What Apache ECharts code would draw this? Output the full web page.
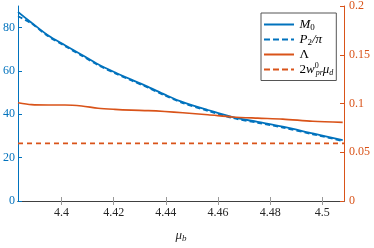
<!DOCTYPE html>
<html><head><meta charset="utf-8">
<script src="https://cdn.jsdelivr.net/npm/echarts@6/dist/echarts.min.js"></script>
<style>html,body{margin:0;padding:0;background:#fff}#c{width:374px;height:248px}</style>
</head><body><div id="c"></div>
<script>
var mu = [4.3833,4.3885,4.3949,4.4013,4.4077,4.4140,4.4204,4.4268,4.4332,4.4396,4.4465,4.4561,4.4656,4.4752,4.4848,4.4963,4.5078];
var M0 = [87.2,82.3,76.4,71.9,67.5,63.1,59.4,56.0,52.7,49.1,45.6,42.0,38.7,36.5,34.3,31.2,28.1];
var P2pi = [85.3,81.9,76.0,71.5,67.1,62.7,59.0,55.6,52.3,48.7,45.2,41.6,38.3,36.1,33.9,30.8,27.7];
var Lambda = [0.1008,0.0988,0.0985,0.0985,0.0975,0.0952,0.0940,0.0932,0.0927,0.0918,0.0905,0.0885,0.0862,0.0850,0.0840,0.0818,0.0806];
var muEnds = [4.3833,4.5083];
var wTerm = [0.0591,0.0591];
var xTicks = [4.4,4.42,4.44,4.46,4.48,4.5];
var yLeftTicks = [0,20,40,60,80];

var BLUE = '#0072BD', ORANGE = '#D95319', AX = '#404040';
var FONT = 'Liberation Serif';
function pairs(xs, ys){ return xs.map(function(x,i){return [x, ys[i]];}); }

var chart = echarts.init(document.getElementById('c'));
var rich = {
  i:{fontFamily:FONT,fontStyle:'italic',fontSize:13,color:'#000'},
  n:{fontFamily:FONT,fontSize:13,color:'#000'},
  sb:{fontFamily:FONT,fontSize:9,color:'#000',padding:[6,0,0,0]},
  sp:{fontFamily:FONT,fontSize:8,color:'#000',padding:[0,0,7,0],width:1},
  sbi:{fontFamily:FONT,fontStyle:'italic',fontSize:8,color:'#000',padding:[6,0,0,0]}
};
var names = {
  'M0':'{i|M}{sb|0}',
  'P2':'{i|P}{sb|2}{i|/π}',
  'L':'{n|Λ}',
  'W':'{n|2}{i|w}{sp|0}{sbi|pr}{i|μ}{sbi|d}'
};
var SOLID = 'path://M0,0L30,0L30,2L0,2Z';
var DASH = 'path://M0,0L6,0L6,2L0,2ZM9,0L15,0L15,2L9,2ZM18,0L24,0L24,2L18,2ZM27,0L30,0L30,2L27,2Z';
chart.setOption({
  animation:false,
  grid:{left:18,right:30,top:6,bottom:39,containLabel:false},
  legend:{
    orient:'vertical', left:261, top:13, padding:[5,3,4,3], itemGap:1,
    itemWidth:31, itemHeight:2, backgroundColor:'#fff', borderColor:'#555', borderWidth:1,
    data:[{name:'M0',icon:SOLID},{name:'P2',icon:DASH},{name:'L',icon:SOLID},{name:'W',icon:DASH}],
    formatter:function(n){return names[n];},
    textStyle:{fontFamily:FONT,fontSize:13,color:'#000',rich:rich}
  },
  xAxis:[{
    type:'value', min:4.3833, max:4.5083,
    axisLine:{show:true,lineStyle:{color:AX,width:1}},
    axisTick:{inside:true,length:4,customValues:xTicks,lineStyle:{color:'#999'}},
    axisLabel:{customValues:xTicks,margin:6,fontFamily:FONT,fontSize:12,color:'#262626',
      formatter:function(v){return String(+v.toFixed(2));}},
    splitLine:{show:false},
    name:'{i|μ}{s|b}', nameLocation:'middle', nameGap:27,
    nameTextStyle:{rich:{i:{fontFamily:FONT,fontStyle:'italic',fontSize:13,color:'#262626'},
      s:{fontFamily:FONT,fontStyle:'italic',fontSize:9,color:'#262626',padding:[6,0,0,0]}}}
  },{
    type:'value', min:4.3833, max:4.5083, position:'top',
    axisLine:{show:true,lineStyle:{color:AX,width:1}},
    axisTick:{inside:true,length:4,customValues:xTicks,lineStyle:{color:'#999'}},
    axisLabel:{show:false}, splitLine:{show:false}
  }],
  yAxis:[{
    type:'value', min:0, max:90, position:'left',
    axisLine:{show:true,lineStyle:{color:BLUE,width:1}},
    axisTick:{show:true,inside:true,length:4,customValues:yLeftTicks,lineStyle:{color:BLUE}},
    axisLabel:{customValues:yLeftTicks,margin:3,fontFamily:FONT,fontSize:12,color:BLUE},
    splitLine:{show:false}
  },{
    type:'value', min:0, max:0.2, interval:0.05, position:'right',
    axisLine:{show:true,lineStyle:{color:ORANGE,width:1}},
    axisTick:{show:true,inside:true,length:4,lineStyle:{color:ORANGE}},
    axisLabel:{margin:5,fontFamily:FONT,fontSize:12,color:ORANGE},
    splitLine:{show:false}
  }],
  series:[
    {name:'M0',type:'line',xAxisIndex:0,yAxisIndex:0,data:pairs(mu,M0),smooth:0.3,symbol:'none',
      lineStyle:{color:BLUE,width:1.8},itemStyle:{color:BLUE}},
    {name:'P2',type:'line',xAxisIndex:0,yAxisIndex:0,data:pairs(mu,P2pi),smooth:0.3,symbol:'none',
      lineStyle:{color:BLUE,width:1.8,type:[5,3]},itemStyle:{color:BLUE}},
    {name:'L',type:'line',xAxisIndex:0,yAxisIndex:1,data:pairs(mu,Lambda),smooth:0.3,symbol:'none',
      lineStyle:{color:ORANGE,width:1.6},itemStyle:{color:ORANGE}},
    {name:'W',type:'line',xAxisIndex:0,yAxisIndex:1,data:pairs(muEnds,wTerm),symbol:'none',
      lineStyle:{color:ORANGE,width:1.6,type:[5,4]},itemStyle:{color:ORANGE}}
  ]
});
</script></body></html>
